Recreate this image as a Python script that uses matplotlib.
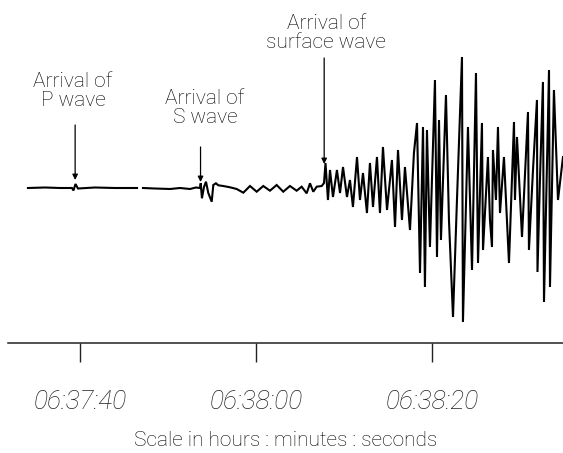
import numpy as np
import matplotlib
matplotlib.use("Agg")
import matplotlib.pyplot as plt

plt.rcParams["font.family"] = ["Roboto", "DejaVu Sans"]

# Seismogram trace: time (s after 06:37:00) and ground motion (arbitrary units)
time_s = [
    34.09, 36.02, 37.73, 39.09, 39.26, 39.49, 39.77, 41.70, 43.98, 46.48, np.nan,
    47.16, 48.52, 50.23, 51.36, 52.50, 53.18, 53.64,
    53.72, 53.86, 54.09, 54.32, 54.58, 54.97, 55.15, 55.45, 55.72, 56.28, 57.05,
    57.81, 58.56, 59.32, 60.08, 60.83, 61.59, 62.35, 63.10, 63.86, 64.62, 65.19,
    65.76, 66.14, 66.51, 66.90, 67.47, 67.73, 67.90,
    68.18, 68.41, 68.75, 69.20, 69.55, 69.89, 70.34, 70.68, 71.02, 71.48, 71.82,
    72.16, 72.61, 72.95, 73.30, 73.75, 74.09, 74.43, 74.89, 75.45, 75.80, 76.14,
    76.59, 76.93, 77.50, 77.95, 78.30, 78.64, 78.98, 79.20, 79.43, 79.77, 80.34,
    80.57, 80.80, 81.02, 81.59, 81.93, 82.39, 82.84, 83.41, 83.52, 84.09, 84.55, 85.00,
    85.23, 85.68, 85.80, 86.36, 86.59, 86.82, 86.93, 87.27, 87.50, 87.73, 88.18,
    88.75, 89.32, 89.43, 89.66, 90.23, 90.91, 91.02, 91.48, 91.93, 91.99, 92.27,
    92.61, 92.73, 93.30, 93.41, 93.86, 94.32, 94.89,
]
motion = [
    0.0, 0.05, 0.0, 0.0, -0.25, 0.4, -0.05, 0.05, 0.0, 0.0, np.nan,
    0.0, -0.05, -0.1, 0.0, -0.1, 0.05, 0.0,
    0.47, -1.03, 0.1, 0.63, -0.5, -1.37, 0.3, 0.47, 0.27, 0.2, 0.07,
    -0.1, -0.47, 0.2, -0.37, 0.2, -0.27, 0.3, -0.37, 0.2, -0.27, 0.13,
    -0.53, 0.47, -0.37, 0.13, 0.2, 0.5, 2.5,
    -1.2, 1.8, -0.9, 1.8, -0.5, 2.1, -0.9, 0.8, -1.9, 3.1, -1.2,
    1.5, -2.5, 2.5, -1.9, 3.1, -2.5, 4.1, -2.2, 2.8, -3.9, 3.8,
    -3.2, 2.1, -4.2, 3.5, 6.5, -8.5, 6.1, -9.9, 5.8, -5.9, 10.8,
    -6.9, 6.8, -5.2, 9.3, -3.2, -12.9, -1.2, 13.1, -13.4, 6.1, -8.2, 11.5,
    -7.5, 6.5, -6.2, 3.1, -3.2, -5.9, 3.8, -1.2, 6.1, -2.5, 3.1,
    -7.5, 6.6, -1.2, 5.1, -4.9, 7.6, -6.2, 1.8, 8.8, -8.4, 0.8,
    10.6, -11.4, 11.8, -9.9, 9.8, -1.2, 3.1,
]

tick_seconds = [40, 60, 80]
tick_labels = ["06:37:40", "06:38:00", "06:38:20"]

arrival_labels = ["Arrival of\nP wave", "Arrival of\nS wave", "Arrival of\nsurface wave"]
arrival_times = [39.45, 53.7, 67.75]

fig = plt.figure(figsize=(5.63, 4.53), dpi=100)
ax = fig.add_axes([8 / 563, 110 / 453, 555 / 563, 343 / 453])
ax.set_xlim(31.82, 94.89)
ax.set_ylim(-15.5, 18.8)

ax.plot(time_s, motion, color="black", lw=1.5, solid_joinstyle="miter")

for s in ["top", "left", "right"]:
    ax.spines[s].set_visible(False)
ax.spines["bottom"].set_color("#222222")
ax.spines["bottom"].set_linewidth(1.1)
ax.set_yticks([])
ax.set_xticks(tick_seconds)
ax.set_xticklabels(tick_labels, fontstyle="italic", fontsize=19, fontweight="light", color="black")
ax.tick_params(axis="x", direction="out", length=14, width=1.0, pad=20, colors="#222222")
ax.set_xlabel("Scale in hours : minutes : seconds", fontsize=15, fontweight="light",
              labelpad=12, color="black")

# arrows and labels
text_pos = [(39.2, 9.7), (54.2, 8.0), (68.0, 15.5)]
arrow_from = [6.3, 4.1, 13.0]
arrow_to = [0.8, 0.6, 2.4]
for lab, t, (tx, ty), a0, a1 in zip(arrival_labels, arrival_times, text_pos, arrow_from, arrow_to):
    ax.text(tx, ty, lab, ha="center", va="center", fontsize=15, fontweight="light",
            linespacing=1.05, color="black")
    ax.annotate("", xy=(t, a1), xytext=(t, a0),
                arrowprops=dict(arrowstyle="-|>", lw=0.9, color="black", mutation_scale=8,
                                shrinkA=0, shrinkB=0))

fig.savefig("out.png", dpi=100)
